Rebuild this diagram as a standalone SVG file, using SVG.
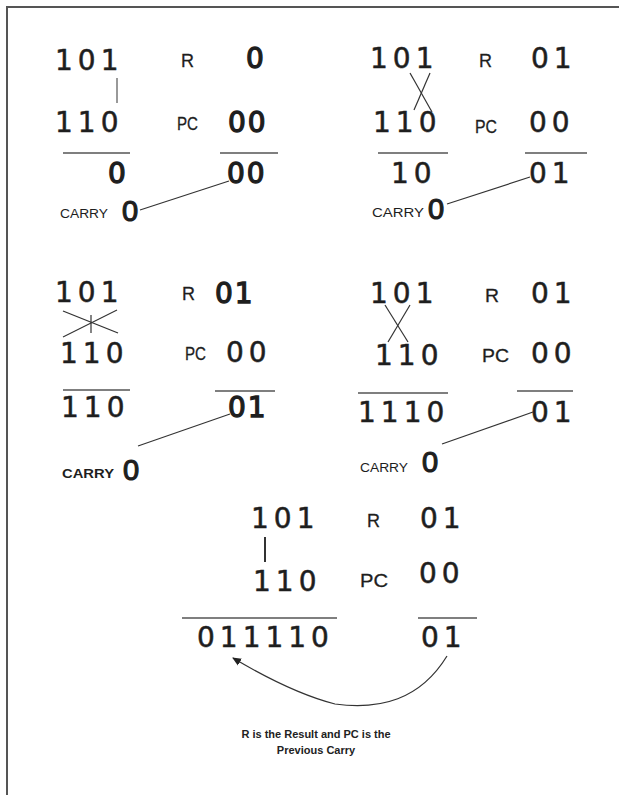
<svg xmlns="http://www.w3.org/2000/svg" width="619" height="795" viewBox="0 0 619 795">
<defs>
<style>
.d{font-family:"DejaVu Sans",sans-serif;font-size:28px;letter-spacing:5px;fill:#1e1e1e;stroke:#1e1e1e;stroke-width:0.5}
.db{font-family:"DejaVu Sans",sans-serif;font-size:28px;letter-spacing:2px;fill:#1e1e1e;stroke:#1e1e1e;stroke-width:1.3}
.l{font-family:"Liberation Sans",sans-serif;font-size:19px;fill:#1e1e1e;stroke:#1e1e1e;stroke-width:0.3}
.c{font-family:"Liberation Sans",sans-serif;font-size:12px;fill:#1e1e1e}
.z{font-family:"Liberation Sans",sans-serif;font-size:29px;fill:#1e1e1e;stroke:#1e1e1e;stroke-width:1.2}
.cap{font-family:"Liberation Sans",sans-serif;font-size:11px;font-weight:bold;fill:#222;text-anchor:middle}
.u{stroke:#555;stroke-width:1.6}
.k{stroke:#333;stroke-width:1.2;fill:none}
.v{stroke:#777;stroke-width:1.5}
</style>
<marker id="ah" markerWidth="10" markerHeight="10" refX="8" refY="5" orient="auto" markerUnits="userSpaceOnUse">
<path d="M0,1 L9,5 L0,9 Z" fill="#222"/>
</marker>
</defs>
<rect width="619" height="795" fill="#fff"/>
<path d="M7,795 V7 H619" fill="none" stroke="#555" stroke-width="2"/>

<g id="step1">
<text class="d" x="55" y="70">101</text>
<line class="v" x1="117" y1="78" x2="117" y2="103"/>
<text class="d" x="55" y="132">110</text>
<text class="l" x="181" y="67" textLength="13" lengthAdjust="spacingAndGlyphs">R</text>
<text class="db" x="246" y="68">0</text>
<text class="l" x="177" y="130" textLength="21" lengthAdjust="spacingAndGlyphs">PC</text>
<text class="db" x="228" y="132">00</text>
<line class="u" x1="63" y1="153" x2="130" y2="153"/>
<line class="u" x1="220" y1="153" x2="278" y2="153"/>
<text class="db" x="108" y="183">0</text>
<text class="db" x="227" y="183">00</text>
<text class="c" x="60" y="218" textLength="48" lengthAdjust="spacingAndGlyphs">CARRY</text>
<text class="z" x="122" y="221">0</text>
</g>

<g id="step2">
<text class="d" x="370" y="68">101</text>
<text class="d" x="373" y="132">110</text>
<text class="l" x="479" y="67" textLength="13" lengthAdjust="spacingAndGlyphs">R</text>
<text class="d" x="531" y="68">01</text>
<text class="l" x="475" y="133" textLength="22" lengthAdjust="spacingAndGlyphs" stroke-width="0.8">PC</text>
<text class="d" x="529" y="132">00</text>
<line class="u" x1="378" y1="153" x2="448" y2="153"/>
<line class="u" x1="525" y1="153" x2="587" y2="153"/>
<text class="d" x="391" y="183">10</text>
<text class="d" x="529" y="183">01</text>
<text class="c" x="372" y="217" textLength="52" lengthAdjust="spacingAndGlyphs">CARRY</text>
<text class="z" x="428" y="219">0</text>
</g>

<g id="step3">
<text class="d" x="55" y="302">101</text>
<text class="d" x="60" y="363">110</text>
<text class="l" x="182" y="300" textLength="13" lengthAdjust="spacingAndGlyphs">R</text>
<text class="db" x="215" y="303">01</text>
<text class="l" x="185" y="360" textLength="21" lengthAdjust="spacingAndGlyphs">PC</text>
<text class="d" x="226" y="362">00</text>
<line class="u" x1="63" y1="390" x2="130" y2="390"/>
<line class="u" x1="215" y1="391" x2="275" y2="391"/>
<text class="d" x="61" y="417" letter-spacing="3">110</text>
<text class="db" x="228" y="417">01</text>
<text class="c" x="62" y="478" textLength="52" lengthAdjust="spacingAndGlyphs" font-weight="bold">CARRY</text>
<text class="z" x="123" y="480">0</text>
</g>

<g id="step4">
<text class="d" x="370" y="303">101</text>
<text class="d" x="375" y="365">110</text>
<text class="l" x="485" y="302" textLength="14" lengthAdjust="spacingAndGlyphs">R</text>
<text class="d" x="531" y="303">01</text>
<text class="l" x="482" y="362" textLength="27" lengthAdjust="spacingAndGlyphs">PC</text>
<text class="d" x="531" y="363">00</text>
<line class="u" x1="358" y1="393" x2="448" y2="393"/>
<line class="u" x1="517" y1="391" x2="573" y2="391"/>
<text class="d" x="358" y="422" letter-spacing="2">1110</text>
<text class="d" x="531" y="422">01</text>
<text class="c" x="360" y="472" textLength="48" lengthAdjust="spacingAndGlyphs">CARRY</text>
<text class="z" x="422" y="472">0</text>
</g>

<g id="step5">
<text class="d" x="251" y="528">101</text>
<text class="d" x="253" y="591">110</text>
<text class="l" x="367" y="527" textLength="13" lengthAdjust="spacingAndGlyphs">R</text>
<text class="d" x="420" y="528">01</text>
<text class="l" x="360" y="587" textLength="28" lengthAdjust="spacingAndGlyphs">PC</text>
<text class="d" x="419" y="583">00</text>
<line class="u" x1="182" y1="618" x2="337" y2="618"/>
<line class="u" x1="418" y1="618" x2="477" y2="618"/>
<text class="d" x="197" y="647" letter-spacing="2.5">011110</text>
<text class="d" x="421" y="647">01</text>
</g>

<g id="caption">
<text class="cap" x="316" y="738">R is the Result and PC is the</text>
<text class="cap" x="316" y="754">Previous Carry</text>
</g>

<g id="connectors">
<line class="k" x1="229" y1="181" x2="140" y2="210"/>
<line class="k" x1="530" y1="177" x2="447" y2="204"/>
<line class="k" x1="230" y1="414" x2="138" y2="446"/>
<line class="k" x1="533" y1="412" x2="442" y2="444"/>
<line class="k" x1="410" y1="73" x2="432" y2="112"/>
<line class="k" x1="430" y1="73" x2="414" y2="110"/>
<line class="k" x1="63" y1="311" x2="118" y2="333"/>
<line class="k" x1="63" y1="337" x2="117" y2="310"/>
<line class="k" x1="91" y1="315" x2="91" y2="333"/>
<line class="k" x1="385" y1="305" x2="408" y2="342"/>
<line class="k" x1="410" y1="305" x2="388" y2="342"/>
<line x1="265" y1="537" x2="265" y2="562" stroke="#333" stroke-width="2"/>
<path class="k" d="M447,656 C420,700 380,710 335,704 C300,695 265,677 233,658" marker-end="url(#ah)"/>
</g>
</svg>
